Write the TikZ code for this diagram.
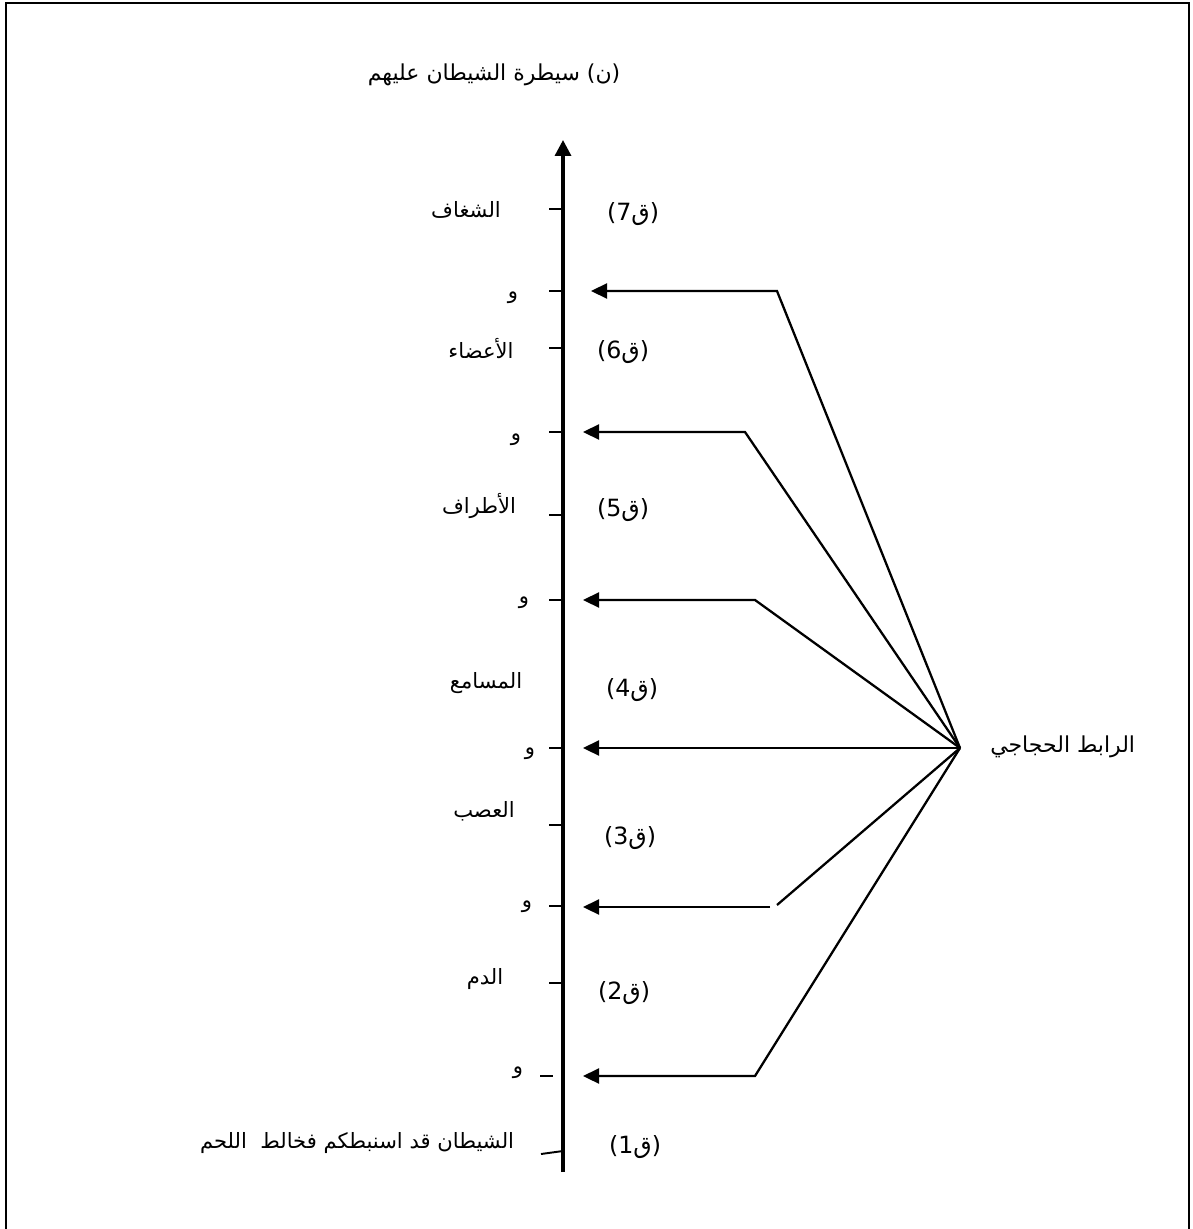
\documentclass[tikz,border=0pt]{standalone}
\usepackage{fontspec}
\usetikzlibrary{arrows.meta}
\TeXXeTstate=1
\newfontfamily\arabicfont[Script=Arabic]{DejaVu Sans}
\newfontfamily\plainfont{DejaVu Sans}
\newcommand{\qlab}[1]{{\plainfont(#1}{\arabicfont ق}{\plainfont)}}
\newcommand{\ar}[1]{{\arabicfont\beginR #1\endR}}
\tikzset{
  px/.style={x=0.02cm,y=-0.02cm},
  lab/.style={inner sep=0pt,font=\fontsize{12}{14}\selectfont},
  qlabel/.style={inner sep=0pt,font=\fontsize{13.5}{15}\selectfont},
  axisline/.style={line width=1.9pt,-{Triangle[length=0.32cm,width=0.32cm]}},
  tickline/.style={line width=1.1pt},
  link/.style={line width=1.3pt},
  linkarrow/.style={line width=1.3pt,-{Triangle[length=0.32cm,width=0.3cm]}},
  frame/.style={line width=1.4pt}
}
\begin{document}
\begin{tikzpicture}[px]
\useasboundingbox (0,0) rectangle (1192,1229);
% frame
\draw[frame] (6,1229) -- (6,3) -- (1189,3) -- (1189,1229);
% axis
\coordinate (axb) at (563,1172);
\coordinate (axt) at (563,140);
\draw[axisline] (axb) -- (axt);
% ticks
\foreach \y in {209,291,348,432,515,600,748,825,906,983}{
  \draw[tickline] (549,\y) -- (563,\y);
}
\draw[tickline] (540,1076) -- (553,1076);
\draw[tickline] (541,1154) -- (563,1151);
% top label
\node[lab,font=\fontsize{12.5}{14}\selectfont] (concl) at (494,75) {\ar{(ن) سيطرة الشيطان عليهم}};
% left labels
\node[lab] (a7) at (466,210) {\ar{الشغاف}};
\node[lab] (w6) at (513,298) {\ar{و}};
\node[lab] (a6) at (481,349) {\ar{الأعضاء}};
\node[lab] (w5) at (516,440) {\ar{و}};
\node[lab] (a5) at (479,506) {\ar{الأطراف}};
\node[lab] (w4) at (524,603) {\ar{و}};
\node[lab] (a4) at (486,683) {\ar{المسامع}};
\node[lab] (w3) at (530,754) {\ar{و}};
\node[lab] (a3) at (484,811) {\ar{العصب}};
\node[lab] (w2) at (527,907) {\ar{و}};
\node[lab] (a2) at (485,979) {\ar{الدم}};
\node[lab] (w1) at (518,1073) {\ar{و}};
\node[lab] (a1) at (357,1143) {\ar{الشيطان قد اسنبطكم فخالط\ \ اللحم}};
% right q labels
\node[qlabel] (q7) at (633,214) {\qlab{7}};
\node[qlabel] (q6) at (623,352) {\qlab{6}};
\node[qlabel] (q5) at (623,510) {\qlab{5}};
\node[qlabel] (q4) at (632,690) {\qlab{4}};
\node[qlabel] (q3) at (630,838) {\qlab{3}};
\node[qlabel] (q2) at (624,993) {\qlab{2}};
\node[qlabel] (q1) at (635,1147) {\qlab{1}};
% hub
\coordinate (hub) at (960,748);
\node[lab,anchor=west,font=\fontsize{12.5}{14}\selectfont] (hubl) at (990,747) {\ar{الرابط الحجاجي}};
% bends and tips
\coordinate (b6) at (777,291);  \coordinate (t6) at (591,291);
\coordinate (b5) at (745,432);  \coordinate (t5) at (583,432);
\coordinate (b4) at (755,600);  \coordinate (t4) at (583,600);
\coordinate (t3) at (583,748);
\coordinate (b2) at (777,905);  \coordinate (e2) at (770,907); \coordinate (t2) at (583,907);
\coordinate (b1) at (755,1076); \coordinate (t1) at (583,1076);
\draw[linkarrow] (hub) -- (b6) -- (t6);
\draw[linkarrow] (hub) -- (b5) -- (t5);
\draw[linkarrow] (hub) -- (b4) -- (t4);
\draw[linkarrow] (hub) -- (t3);
\draw[link] (hub) -- (b2);
\draw[linkarrow] (e2) -- (t2);
\draw[linkarrow] (hub) -- (b1) -- (t1);
\end{tikzpicture}
\end{document}
